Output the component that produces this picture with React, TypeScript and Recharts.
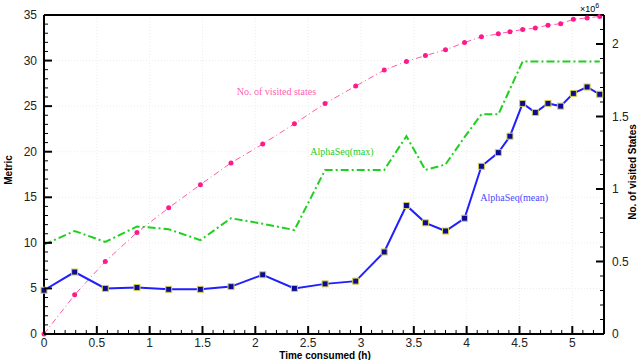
import React from "react";
import {
  LineChart,
  Line,
  XAxis,
  YAxis,
  CartesianGrid,
  ReferenceLine,
  ReferenceDot,
} from "recharts";

// time consumed (h)
const times = [0, 0.29, 0.58, 0.88, 1.18, 1.48, 1.77, 2.07, 2.37, 2.66, 2.95, 3.22, 3.43, 3.61, 3.8, 3.98, 4.14, 4.3, 4.41, 4.53, 4.65, 4.77, 4.89, 5.01, 5.14, 5.26];
// AlphaSeq(mean)
const meanValues = [4.8, 6.8, 5.0, 5.1, 4.9, 4.9, 5.2, 6.5, 5.0, 5.5, 5.8, 9.0, 14.1, 12.2, 11.3, 12.7, 18.4, 19.9, 21.7, 25.3, 24.3, 25.3, 25.0, 26.4, 27.1, 26.3];
// AlphaSeq(max) - null where the line just passes through
const maxValues = [9.8, 11.3, 10.1, 11.8, 11.5, 10.3, 12.7, 12.1, 11.4, 18.0, 18.0, 18.0, 21.7, 18.0, 18.6, 21.6, 24.1, 24.1, null, 29.9, 29.9, 29.9, 29.9, 29.9, 29.9, 29.9];
// no. of visited states, x10^6
const visitedValues = [0, 0.27, 0.5, 0.7, 0.87, 1.03, 1.18, 1.31, 1.45, 1.59, 1.71, 1.82, 1.88, 1.92, 1.96, 2.01, 2.05, 2.07, 2.085, 2.1, 2.11, 2.13, 2.14, 2.17, 2.18, 2.19];

const xMajor = [0, 0.5, 1, 1.5, 2, 2.5, 3, 3.5, 4, 4.5, 5];
const yMajor = [0, 5, 10, 15, 20, 25, 30, 35];
const rMajor = [0, 0.5, 1, 1.5, 2];

const steps = (max: number, step: number) => {
  const out: number[] = [];
  for (let i = 0; i * step <= max + 1e-9; i++) out.push(Math.round(i * step * 100) / 100);
  return out;
};
const xTicks = steps(5.3, 0.1);
const yTicks = steps(35, 1);
const rTicks = steps(2.2, 0.1);

const data = times.map((t, i) => ({
  t,
  mean: meanValues[i],
  max: maxValues[i],
  visited: visitedValues[i],
}));

const isMajor = (v: number, list: number[]) => list.some((m) => Math.abs(m - v) < 1e-6);
const tickFont = { fontFamily: "Liberation Sans, Arial, sans-serif", fontSize: 12, fill: "#222" };

const BottomTick = (props: any) => {
  const { x, y, payload } = props;
  const major = isMajor(payload.value, xMajor);
  return (
    <g>
      <line x1={x} x2={x} y1={y} y2={y - (major ? 8 : 4)} stroke="#000" strokeWidth={major ? 2 : 1} />
      {major && (
        <text x={x} y={y + 13} textAnchor="middle" {...tickFont}>
          {payload.value}
        </text>
      )}
    </g>
  );
};

const LeftTick = (props: any) => {
  const { x, y, payload } = props;
  const major = isMajor(payload.value, yMajor);
  return (
    <g>
      <line x1={x} x2={x + (major ? 8 : 4)} y1={y} y2={y} stroke="#000" strokeWidth={major ? 2 : 1} />
      {major && (
        <text x={x - 7} y={y + 4} textAnchor="end" {...tickFont}>
          {payload.value}
        </text>
      )}
    </g>
  );
};

const RightTick = (props: any) => {
  const { x, y, payload } = props;
  const major = isMajor(payload.value, rMajor);
  return (
    <g>
      <line x1={x} x2={x - (major ? 8 : 4)} y1={y} y2={y} stroke="#000" strokeWidth={major ? 2 : 1} />
      {major && (
        <text x={x + 8} y={y + 4} textAnchor="start" {...tickFont}>
          {payload.value}
        </text>
      )}
    </g>
  );
};

const SquareDot = (props: any) => {
  const { cx, cy, index } = props;
  if (cx == null || cy == null) return <g key={index} />;
  return <rect key={index} x={cx - 3} y={cy - 3} width={6} height={6} fill="#0b0b96" stroke="#d6cf4a" strokeWidth={1} />;
};

const serifLabel = (text: string, color: string) => (p: any) => (
  <text x={p.cx} y={p.cy} textAnchor="middle" fontFamily="Liberation Serif, Times New Roman, serif" fontSize={10} fill={color}>
    {text}
  </text>
);

const titleFont = { fontFamily: "Liberation Sans, Arial, sans-serif", fontSize: 10, fontWeight: "bold" as const, fill: "#000" };

export default function App() {
  return (
    <div style={{ position: "absolute", left: 0, top: 0, background: "#fff" }}>
      <LineChart width={640} height={360} data={data} margin={{ top: 15, right: 0, bottom: 0, left: 0 }}>
        <CartesianGrid
          yAxisId="left"
          stroke="#ececec"
          strokeDasharray="1 2"
          verticalValues={xMajor}
          horizontalValues={yMajor}
        />
        <XAxis
          dataKey="t"
          type="number"
          domain={[0, 5.3]}
          ticks={xTicks}
          interval={0}
          height={26}
          tickSize={0}
          tickMargin={0}
          tickLine={false}
          axisLine={{ stroke: "#000", strokeWidth: 2 }}
          tick={<BottomTick />}
        />
        <YAxis
          yAxisId="left"
          domain={[0, 35]}
          ticks={yTicks}
          interval={0}
          width={44}
          tickSize={0}
          tickMargin={0}
          tickLine={false}
          axisLine={{ stroke: "#000", strokeWidth: 2 }}
          tick={<LeftTick />}
        />
        <YAxis
          yAxisId="right"
          orientation="right"
          domain={[0, 2.2]}
          ticks={rTicks}
          interval={0}
          width={36}
          tickSize={0}
          tickMargin={0}
          tickLine={false}
          axisLine={{ stroke: "#000", strokeWidth: 2 }}
          tick={<RightTick />}
        />
        <ReferenceLine yAxisId="left" y={35} stroke="#000" strokeWidth={2} ifOverflow="visible" />

        <Line
          yAxisId="right"
          dataKey="visited"
          stroke="#ff5aa8"
          strokeWidth={1}
          strokeDasharray="6 3 1 3"
          dot={{ r: 2.5, fill: "#ff1a8c", stroke: "none" }}
          isAnimationActive={false}
        />
        <Line
          yAxisId="left"
          dataKey="max"
          stroke="#1fd01f"
          strokeWidth={2}
          strokeDasharray="8 3 2 3"
          connectNulls
          dot={false}
          isAnimationActive={false}
        />
        <Line
          yAxisId="left"
          dataKey="mean"
          stroke="#2020ff"
          strokeWidth={2}
          dot={<SquareDot />}
          isAnimationActive={false}
        />

        <ReferenceDot yAxisId="left" x={2.2} y={26.2} shape={serifLabel("No. of visited states", "#ff5fb0")} ifOverflow="visible" />
        <ReferenceDot yAxisId="left" x={2.82} y={19.6} shape={serifLabel("AlphaSeq(max)", "#1fcc1f")} ifOverflow="visible" />
        <ReferenceDot yAxisId="left" x={4.45} y={14.6} shape={serifLabel("AlphaSeq(mean)", "#4a4aff")} ifOverflow="visible" />

        <text x={12} y={170} transform="rotate(-90 12 170)" textAnchor="middle" {...titleFont}>
          Metric
        </text>
        <text x={325} y={359} textAnchor="middle" {...titleFont}>
          Time consumed (h)
        </text>
        <text x={636} y={172} transform="rotate(-90 636 172)" textAnchor="middle" {...titleFont}>
          No. of visited States
        </text>
        <text x={580} y={12} fontFamily="Liberation Sans, Arial, sans-serif" fontSize={9} fill="#000">
          ×10<tspan dy={-4} fontSize={7}>6</tspan>
        </text>
      </LineChart>
    </div>
  );
}
